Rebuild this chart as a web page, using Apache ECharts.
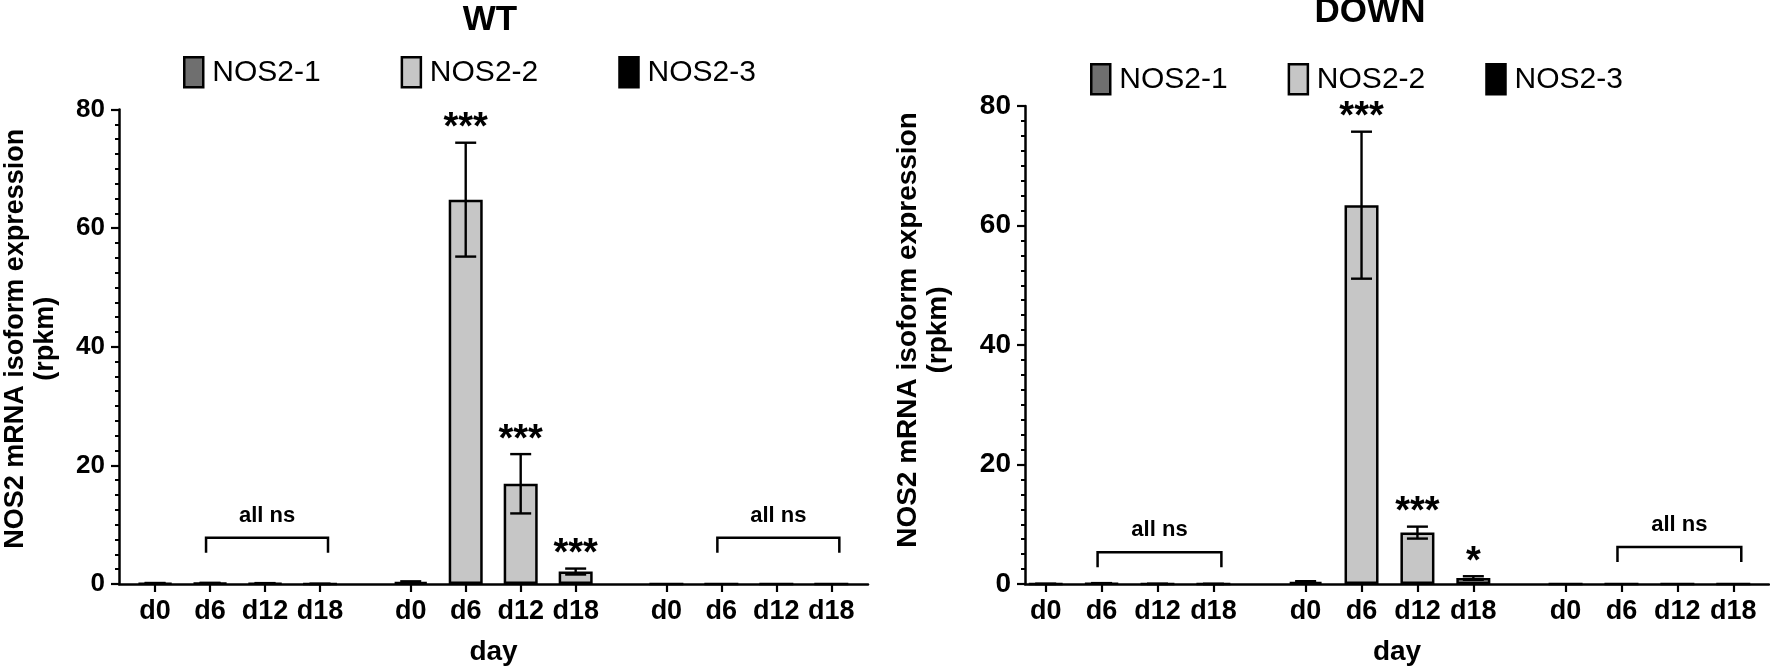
<!DOCTYPE html>
<html><head><meta charset="utf-8">
<script src="https://cdn.jsdelivr.net/npm/echarts@6/dist/echarts.min.js"></script>
<style>html,body{margin:0;padding:0;background:#fff}#c{width:1770px;height:671px}</style>
</head><body><div id="c"></div>
<script>
// ---------- data ----------
const days = ['d0', 'd6', 'd12', 'd18'];
const isoforms = ['NOS2-1', 'NOS2-2', 'NOS2-3'];
const panelTitles = ['WT', 'DOWN'];
const yMax = 80;
const yInterval = 20;

const wtNos21 = [0.12, 0.15, 0.10, 0.02];
const wtNos21Err = [0.05, 0.05, 0.05, 0.02];
const wtNos22 = [0.30, 64.8, 16.9, 2.1];
const wtNos22Err = [0.15, 9.6, 5.0, 0.5];
const wtNos23 = [0, 0, 0, 0];
const wtNos23Err = [0, 0, 0, 0];
const wtSig = [['', '', '', ''], ['', '***', '***', '***'], ['', '', '', '']];
const wtNsLevel = [7.8, null, 7.8];

const downNos21 = [0.02, 0.10, 0.02, 0.01];
const downNos21Err = [0.01, 0.05, 0.01, 0.01];
const downNos22 = [0.35, 63.4, 8.6, 1.0];
const downNos22Err = [0.12, 12.3, 1.0, 0.3];
const downNos23 = [0, 0, 0, 0];
const downNos23Err = [0, 0, 0, 0];
const downSig = [['', '', '', ''], ['', '***', '***', '*'], ['', '', '', '']];
const downNsLevel = [5.3, null, 6.2];

// ---------- style / layout ----------
const colors = ['#6f6f6f', '#c6c6c6', '#000000'];
const groupStride = 4.65;
const xPos = (g, i) => g * groupStride + i;
const allPos = [];
for (let g = 0; g < 3; g++) for (let i = 0; i < days.length; i++) allPos.push(xPos(g, i));
const labelFor = v => {
  const k = allPos.findIndex(p => Math.abs(p - v) < 1e-6);
  return k < 0 ? '' : days[k % days.length];
};

const BASE = '"Liberation Sans", Arial, Helvetica, sans-serif';
const legendSize = 30;
const titleSize = 35;
const nsSize = 22;

const panels = [
  { title: panelTitles[0], cx: 490, ty: 3,
    grid: { left: 116, right: 902, top: 109.5, bottom: 86 },
    xMin: -0.656, xMax: 12.967,
    yLabelSize: 26, yNameSize: 27, yNameGap: 58, yNameShift: 16,
    vals: [wtNos21, wtNos22, wtNos23], errs: [wtNos21Err, wtNos22Err, wtNos23Err],
    sig: wtSig, ns: wtNsLevel,
    legend: { left: 178, top: 51, itemGap: 80 } },
  { title: panelTitles[1], cx: 1370, ty: -5,
    grid: { left: 1025, right: 1, top: 106, bottom: 85 },
    xMin: -0.370, xMax: 12.939,
    yLabelSize: 28, yNameSize: 28, yNameGap: 72, yNameShift: 30,
    vals: [downNos21, downNos22, downNos23], errs: [downNos21Err, downNos22Err, downNos23Err],
    sig: downSig, ns: downNsLevel,
    legend: { left: 1085, top: 58, itemGap: 60 } }
];

const option = {
  animation: false,
  backgroundColor: '#fff',
  textStyle: { fontFamily: BASE, color: '#000' },
  grid: [], xAxis: [], yAxis: [], legend: [], series: [], graphic: []
};

panels.forEach((p, pi) => {
  option.grid.push(Object.assign({ containLabel: false }, p.grid));
  option.graphic.push({
    type: 'text', x: p.cx, y: p.ty, z: 10,
    style: { text: p.title, align: 'center', verticalAlign: 'top',
      font: 'bold ' + titleSize + 'px ' + BASE, fill: '#000' }
  });
  option.legend.push({
    data: isoforms, left: p.legend.left, top: p.legend.top, itemGap: p.legend.itemGap,
    itemWidth: 19, itemHeight: 30, icon: 'rect', selectedMode: false,
    itemStyle: { borderColor: '#000', borderWidth: 2.5 },
    textStyle: { fontSize: legendSize, fontFamily: BASE, color: '#000', padding: [0, 0, 0, 4] }
  });
  option.xAxis.push({
    type: 'value', gridIndex: pi, min: p.xMin, max: p.xMax,
    name: 'day', nameLocation: 'middle', nameGap: 54,
    nameTextStyle: { fontSize: 28, fontWeight: 'bold', fontFamily: BASE, color: '#000' },
    splitLine: { show: false },
    axisLine: { show: true, onZero: false, lineStyle: { color: '#000', width: 2.5 } },
    axisTick: { show: true, customValues: allPos, length: 8, lineStyle: { color: '#000', width: 2.2 } },
    axisLabel: { customValues: allPos, formatter: v => labelFor(v), margin: 14,
      fontSize: 27, fontWeight: 'bold', fontFamily: BASE, color: '#000' }
  });
  option.yAxis.push({
    type: 'value', gridIndex: pi, min: 0, max: yMax, interval: yInterval,
    name: 'NOS2 mRNA isoform expression\n(rpkm)', nameLocation: 'middle', nameRotate: 90, nameGap: p.yNameGap,
    nameTextStyle: { fontSize: p.yNameSize, fontWeight: 'bold', fontFamily: BASE, color: '#000',
      lineHeight: 30, padding: [0, 0, 0, p.yNameShift] },
    splitLine: { show: false },
    axisLine: { show: true, onZero: false, lineStyle: { color: '#000', width: 2.5 } },
    axisTick: { show: true, length: 8, lineStyle: { color: '#000', width: 2.2 } },
    minorTick: { show: true, splitNumber: 8, length: 4, lineStyle: { color: '#000', width: 2 } },
    axisLabel: { margin: 14, fontSize: p.yLabelSize, fontWeight: 'bold', fontFamily: BASE, color: '#000' }
  });

  // bars
  isoforms.forEach((name, g) => {
    option.series.push({
      type: 'bar', name, xAxisIndex: pi, yAxisIndex: pi,
      barWidth: 34, barGap: '-100%', z: 2,
      itemStyle: { color: colors[g], borderColor: '#000', borderWidth: 2.5 },
      data: p.vals[g].map((v, i) => [xPos(g, i), v])
    });
  });

  // error bars
  const errData = [];
  isoforms.forEach((name, g) => p.vals[g].forEach((v, i) => {
    const e = p.errs[g][i];
    if (e > 0) errData.push([xPos(g, i), v - e, v + e]);
  }));
  option.series.push({
    type: 'custom', name: 'err' + pi, xAxisIndex: pi, yAxisIndex: pi, z: 5, silent: true,
    encode: { x: 0, y: [1, 2] },
    data: errData,
    renderItem: (params, api) => {
      const x = api.value(0);
      const lo = api.coord([x, Math.max(0, api.value(1))]);
      const hi = api.coord([x, api.value(2)]);
      const hw = 10.5;
      const st = { stroke: '#000', lineWidth: 2.4 };
      return { type: 'group', children: [
        { type: 'line', shape: { x1: hi[0], y1: hi[1], x2: lo[0], y2: lo[1] }, style: st },
        { type: 'line', shape: { x1: hi[0] - hw, y1: hi[1], x2: hi[0] + hw, y2: hi[1] }, style: st },
        { type: 'line', shape: { x1: lo[0] - hw, y1: lo[1], x2: lo[0] + hw, y2: lo[1] }, style: st }
      ] };
    }
  });

  // significance stars
  const starData = [], starText = [];
  isoforms.forEach((name, g) => p.sig[g].forEach((s, i) => {
    if (s) { starData.push([xPos(g, i), p.vals[g][i] + p.errs[g][i]]); starText.push(s); }
  }));
  option.series.push({
    type: 'custom', name: 'sig' + pi, xAxisIndex: pi, yAxisIndex: pi, z: 6, silent: true,
    encode: { x: 0, y: 1 }, data: starData,
    renderItem: (params, api) => {
      const pt = api.coord([api.value(0), api.value(1)]);
      return { type: 'text', x: pt[0], y: pt[1] - 14,
        style: { text: starText[params.dataIndex], align: 'center', verticalAlign: 'middle',
          textAlign: 'center', textVerticalAlign: 'middle',
          font: 'bold 38px ' + BASE, fill: '#000' } };
    }
  });

  // "all ns" brackets
  const nsData = [];
  p.ns.forEach((lvl, g) => { if (lvl != null) nsData.push([xPos(g, 1), xPos(g, days.length - 1), lvl]); });
  option.series.push({
    type: 'custom', name: 'ns' + pi, xAxisIndex: pi, yAxisIndex: pi, z: 6, silent: true,
    encode: { x: [0, 1], y: 2 }, data: nsData,
    renderItem: (params, api) => {
      const a = api.coord([api.value(0), api.value(2)]);
      const b = api.coord([api.value(1), api.value(2)]);
      const x1 = a[0] - 4, x2 = b[0] + 8, y = a[1], drop = 15;
      return { type: 'group', children: [
        { type: 'polyline', shape: { points: [[x1, y + drop], [x1, y], [x2, y], [x2, y + drop]] },
          style: { stroke: '#000', lineWidth: 2.5, fill: null } },
        { type: 'text', x: (x1 + x2) / 2, y: y - 22,
          style: { text: 'all ns', align: 'center', verticalAlign: 'middle',
            textAlign: 'center', textVerticalAlign: 'middle',
            font: 'bold ' + nsSize + 'px ' + BASE, fill: '#000' } }
      ] };
    }
  });
});

const chart = echarts.init(document.getElementById('c'), null, { renderer: 'canvas' });
chart.setOption(option);
</script></body></html>
